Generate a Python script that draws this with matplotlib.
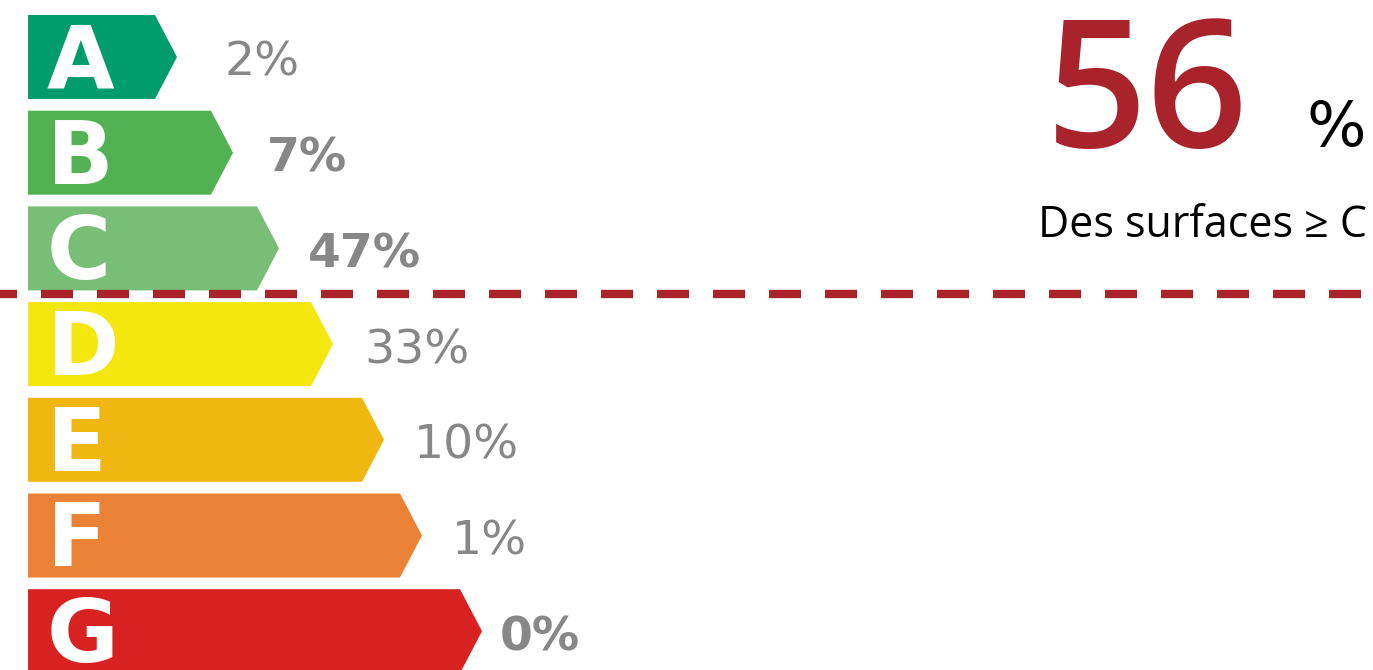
import matplotlib.pyplot as plt
from matplotlib.patches import Polygon

# classes energetiques et repartition des surfaces
classes = ["A", "B", "C", "D", "E", "F", "G"]
parts = [2, 7, 47, 33, 10, 1, 0]
gras = [False, True, True, False, False, False, True]
couleurs = ["#009C6C", "#52B153", "#78BE77", "#F4E70F", "#F0B611", "#EC8236", "#D82222"]

total_sup_c = 56
sous_titre = "Des surfaces \u2265 C"

# geometrie des fleches (en pixels)
x0 = 28
fin_rect = [155, 211, 257, 311, 362, 400, 460]
pointe = 22
haut0 = 15
pas = 95.7
hauteur = 84
ecart_label = [48, 34, 29, 31, 30, 30, 18]

gris = "#878787"
rouge = "#A8232B"
police = ["DejaVu Sans"]
police2 = ["Open Sans", "DejaVu Sans"]

fig = plt.figure(figsize=(13.73, 6.70), dpi=100)
ax = fig.add_axes([0, 0, 1, 1])
ax.set_xlim(0, 1373)
ax.set_ylim(670, 0)
ax.axis("off")

for i, (c, p) in enumerate(zip(classes, parts)):
    haut = haut0 + i * pas
    bas = haut + hauteur
    milieu = haut + hauteur / 2
    xe = fin_rect[i]
    pts = [(x0, haut), (xe, haut), (xe + pointe, milieu), (xe, bas), (x0, bas)]
    ax.add_patch(Polygon(pts, closed=True, facecolor=couleurs[i], edgecolor="none"))
    ax.text(x0 + 19, milieu + 31, c, color="white", fontsize=63, fontweight="bold",
            family=police, ha="left", va="baseline")
    ax.text(xe + pointe + ecart_label[i], milieu + 19, f"{p}%", color=gris,
            fontsize=34, fontweight="bold" if gras[i] else "normal",
            family=police, ha="left", va="baseline")

# ligne de separation sous la classe C
ax.plot([0, 1361], [293.5, 293.5], color="#AB2329", lw=6,
        linestyle=(1.8, (3.84, 2.88)), solid_capstyle="butt", dash_capstyle="butt")

ax.text(1046, 147, str(total_sup_c), color=rouge, fontsize=128, fontweight="semibold",
        family=police2, ha="left", va="baseline")
ax.text(1366, 146, "%", color="black", fontsize=45, family=police,
        ha="right", va="baseline")
ax.text(1367, 237, sous_titre, color="black", fontsize=31, family=police2,
        ha="right", va="baseline")

fig.savefig("out.png", dpi=100)
